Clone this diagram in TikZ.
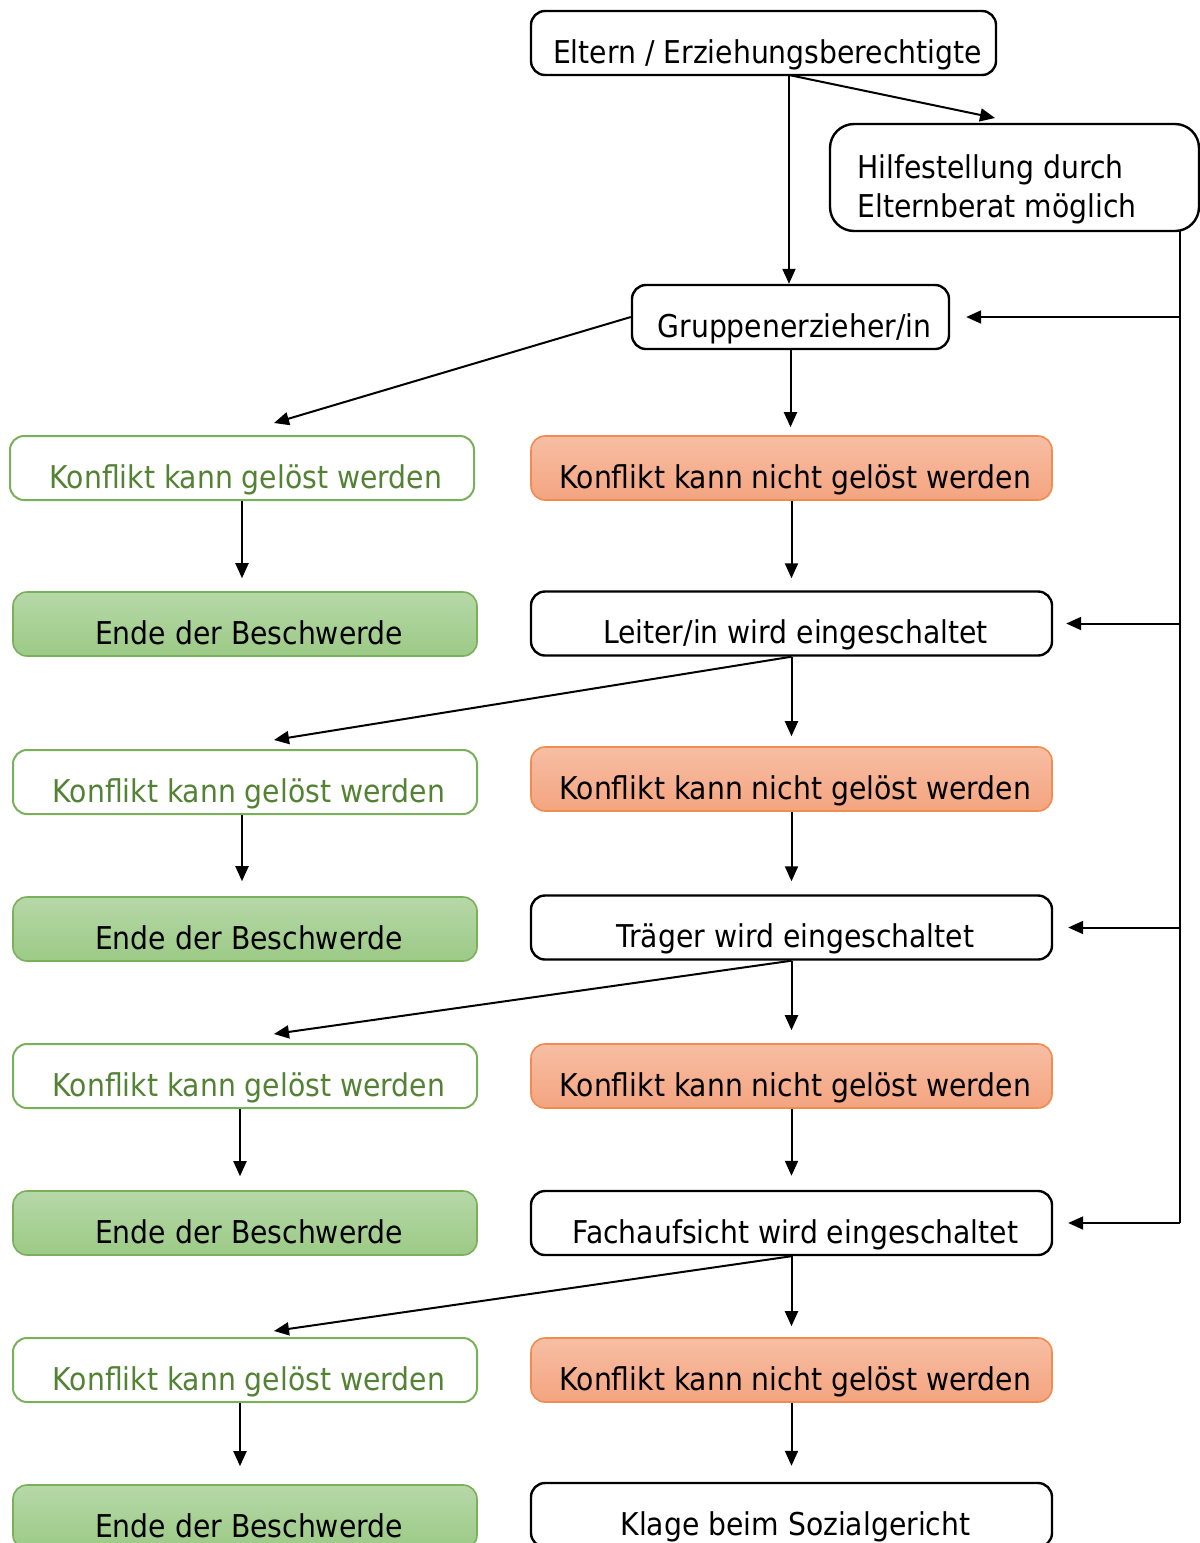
\documentclass[tikz,border=0pt]{standalone}
\usepackage{fontspec}
\setmainfont{DejaVu Sans Condensed}
\usetikzlibrary{arrows.meta,calc}
\definecolor{gborder}{RGB}{122,176,90}
\definecolor{gtext}{RGB}{84,130,53}
\definecolor{gtop}{RGB}{182,216,168}
\definecolor{gbot}{RGB}{156,202,134}
\definecolor{oborder}{RGB}{240,140,80}
\definecolor{otop}{RGB}{247,190,164}
\definecolor{obot}{RGB}{244,164,128}
\begin{document}
\begin{tikzpicture}[x=0.5pt,y=-0.5pt,
  every node/.style={font=\fontsize{15.7pt}{19.5pt}\selectfont, inner sep=0pt},
  boxbase/.style={rounded corners=7pt, minimum height=32pt, text height=22pt, text depth=2pt,
    execute at begin node={\hspace*{4pt}}},
  wbox/.style={boxbase, draw=black, line width=1.2pt, fill=white},
  gbox/.style={boxbase, draw=gborder, line width=1pt, fill=white, text=gtext},
  ebox/.style={boxbase, draw=gborder, line width=0.8pt, top color=gtop, bottom color=gbot},
  obox/.style={boxbase, draw=oborder, line width=0.8pt, top color=otop, bottom color=obot},
  lw/.style={minimum width=232pt},
  rw/.style={minimum width=260.5pt},
  conn/.style={line width=1pt},
  arr/.style={line width=1pt, -{Triangle[length=7.5pt,width=6.5pt]}},
  htext/.style={anchor=base west}
]
\useasboundingbox (0,0) rectangle (1200,1543);
\clip (0,0) rectangle (1200,1543);

% top
\node[wbox, minimum width=232.5pt] (eltern) at (763.5,43) {Eltern / Erziehungsberechtigte};
\node[draw=black, line width=1.2pt, rounded corners=12pt, fill=white, minimum width=184.5pt, minimum height=53.5pt] (hilfe) at (1014.5,177.5) {};
\node[htext] (hilfe1) at (857,178) {Hilfestellung durch};
\node[htext] (hilfe2) at (857,217) {Elternberat möglich};
\node[wbox, minimum width=158.5pt] (gruppen) at (790.5,317) {Gruppenerzieher/in};

% rows
\node[gbox, lw] (k1) at (242,468) {Konflikt kann gelöst werden};
\node[obox, rw] (o1) at (791.5,468) {Konflikt kann nicht gelöst werden};
\node[ebox, lw] (e1) at (245,624) {Ende der Beschwerde};
\node[wbox, rw] (leiter) at (791.5,623.5) {Leiter/in wird eingeschaltet};

\node[gbox, lw] (k2) at (245,782) {Konflikt kann gelöst werden};
\node[obox, rw] (o2) at (791.5,779) {Konflikt kann nicht gelöst werden};
\node[ebox, lw] (e2) at (245,929) {Ende der Beschwerde};
\node[wbox, rw] (traeger) at (791.5,927.5) {Träger wird eingeschaltet};

\node[gbox, lw] (k3) at (245,1076) {Konflikt kann gelöst werden};
\node[obox, rw] (o3) at (791.5,1076) {Konflikt kann nicht gelöst werden};
\node[ebox, lw] (e3) at (245,1223) {Ende der Beschwerde};
\node[wbox, rw] (fach) at (791.5,1223) {Fachaufsicht wird eingeschaltet};

\node[gbox, lw] (k4) at (245,1370) {Konflikt kann gelöst werden};
\node[obox, rw] (o4) at (791.5,1370) {Konflikt kann nicht gelöst werden};
\node[ebox, lw] (e4) at (245,1517) {Ende der Beschwerde};
\node[wbox, rw] (klage) at (791.5,1515) {Klage beim Sozialgericht};

% top connectors
\coordinate (es) at (789,75);
\coordinate (hin) at (995,118);
\draw[arr] (es) -- (es |- gruppen.north);
\draw[arr] (es) -- (hin);

% bus on the right
\coordinate (bt) at (1180,231);
\draw[conn] (bt) -- (bt |- fach.east);
\draw[arr] (bt |- gruppen.east) -- ($(gruppen.east)+(16,0)$);
\draw[arr] (bt |- leiter.east) -- ($(leiter.east)+(13,0)$);
\draw[arr] (bt |- traeger.east) -- ($(traeger.east)+(15,0)$);
\draw[arr] (bt |- fach.east) -- ($(fach.east)+(15,0)$);

% diagonals
\draw[arr] (gruppen.west) -- ($(k1.north)+(32,-12)$);
\draw[arr] (leiter.south) -- ($(k2.north)+(29,-9)$);
\draw[arr] (traeger.south) -- ($(k3.north)+(29,-9)$);
\draw[arr] (fach.south) -- ($(k4.north)+(29,-6)$);

% verticals right
\draw[arr, shorten >=4pt] (gruppen.south) -- (gruppen.south |- o1.north);
\draw[arr, shorten >=6pt] (o1.south) -- (leiter.north);
\draw[arr, shorten >=5pt] (leiter.south) -- (o2.north);
\draw[arr, shorten >=6.5pt] (o2.south) -- (traeger.north);
\draw[arr, shorten >=6.5pt] (traeger.south) -- (o3.north);
\draw[arr, shorten >=7pt] (o3.south) -- (fach.north);
\draw[arr, shorten >=5.5pt] (fach.south) -- (o4.north);
\draw[arr, shorten >=8pt] (o4.south) -- (klage.north);

% verticals left
\draw[arr, shorten >=6.5pt] (k1.south) -- (k1.south |- e1.north);
\draw[arr, shorten >=7.5pt] ([xshift=-1.5pt]k2.south) -- ([xshift=-1.5pt]k2.south |- e2.north);
\draw[arr, shorten >=7pt] ([xshift=-2.5pt]k3.south) -- ([xshift=-2.5pt]k3.south |- e3.north);
\draw[arr, shorten >=9pt] ([xshift=-2.5pt]k4.south) -- ([xshift=-2.5pt]k4.south |- e4.north);
\end{tikzpicture}
\end{document}
